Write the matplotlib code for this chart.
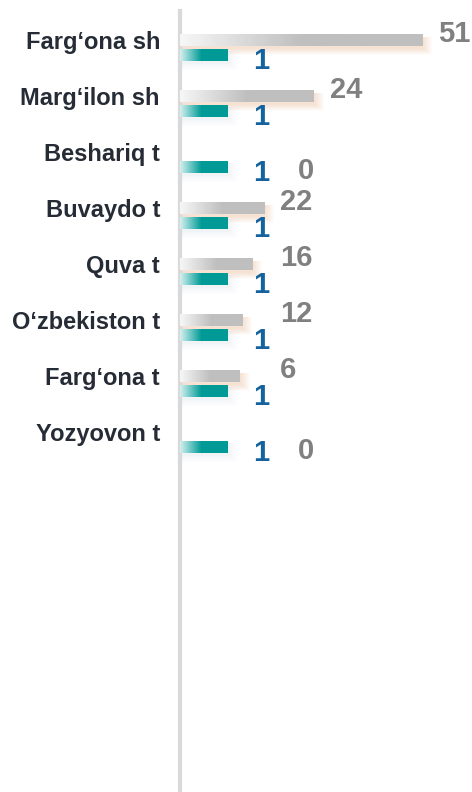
import numpy as np
import matplotlib
matplotlib.use("Agg")
import matplotlib.pyplot as plt
from matplotlib.colors import LinearSegmentedColormap
from matplotlib.patches import Rectangle

plt.rcParams['font.family'] = ['Liberation Sans', 'DejaVu Sans']

# data
districts = ["Farg‘ona sh", "Marg‘ilon sh", "Beshariq t", "Buvaydo t",
             "Quva t", "O‘zbekiston t", "Farg‘ona t", "Yozyovon t"]
gray_values = [51, 24, 0, 22, 16, 12, 6, 0]
teal_values = [1, 1, 1, 1, 1, 1, 1, 1]
# bar lengths as drawn in the picture (the picture is not to scale)
gray_len = [51, 28.2, 0, 17.7, 15.2, 13.1, 12.6, 0]
teal_len = [10.1, 10.1, 10.1, 10.1, 10.1, 10.1, 10.1, 10.1]

W, H = 472, 792
fig = plt.figure(figsize=(W / 100, H / 100), dpi=100)
fig.patch.set_facecolor('white')
ax = fig.add_axes([180 / W, 0, 292 / W, 781 / H])

xmax = 61.5
px_x = xmax / 292.0   # data units per pixel (x)
px_y = 1 / 56.0       # data units per pixel (y)
bh = 12 * px_y
off = 0.138

gray_cmap = LinearSegmentedColormap.from_list('g', [(0, '#f7f7f7'), (0.5, '#bfbfbf'), (1, '#bfbfbf')])
teal_cmap = LinearSegmentedColormap.from_list('t', [(0, '#d6f0ef'), (0.45, '#009a97'), (1, '#009a97')])
grad = np.linspace(0, 1, 256).reshape(1, -1)

y = np.arange(len(districts))
gy = y - off
ty = y + off

# soft glow under gray bars / shadow under teal bars
for i in range(len(districts)):
    if gray_len[i] > 0:
        for k in range(10):
            ax.add_patch(Rectangle((0, gy[i] - bh / 2 + 3 * px_y),
                                   gray_len[i] + (1 + k * 1.0) * px_x,
                                   bh + (k * 0.7) * px_y,
                                   facecolor='#f6b98f', edgecolor='none',
                                   alpha=0.045, zorder=1))
    for k in range(5):
        ax.add_patch(Rectangle((0, ty[i] - bh / 2 + 2 * px_y),
                               teal_len[i] + (1 + k * 2) * px_x,
                               bh + (1 + k * 1.5) * px_y,
                               facecolor='#c9d6e6', edgecolor='none',
                               alpha=0.05, zorder=1))

gbars = ax.barh(gy, gray_len, height=bh, color='none', edgecolor='none', zorder=2)
tbars = ax.barh(ty, teal_len, height=bh, color='none', edgecolor='none', zorder=2)

for bars, cmap in ((gbars, gray_cmap), (tbars, teal_cmap)):
    for b in bars:
        if b.get_width() <= 0:
            continue
        x0, y0 = b.get_x(), b.get_y()
        im = ax.imshow(grad, cmap=cmap, aspect='auto', zorder=3,
                       extent=[x0, x0 + b.get_width(), y0 + b.get_height(), y0],
                       interpolation='bilinear')
        im.set_clip_path(b)

# labels
for i in range(len(districts)):
    if gray_values[i] == 0:
        ax.annotate(str(gray_values[i]), xy=(teal_len[i], ty[i]), xytext=(50, -3),
                    textcoords='offset points', ha='left', va='center',
                    fontsize=21, fontweight='bold', color='#808080', zorder=5)
    else:
        ax.annotate(str(gray_values[i]), xy=(max(gray_len[i], 17.7), gy[i]),
                    xytext=(11.5, 4.3), textcoords='offset points',
                    ha='left', va='center', fontsize=21, fontweight='bold',
                    color='#808080', zorder=5)
    ax.annotate(str(teal_values[i]), xy=(teal_len[i], ty[i]), xytext=(18, -4.5),
                textcoords='offset points', ha='left', va='center',
                fontsize=21, fontweight='bold', color='#15639e', zorder=5)

ax.set_xlim(0, xmax)
ax.set_ylim(-0.647 + 781 / 56.0, -0.647)
ax.set_yticks(gy)
ax.set_yticklabels(districts, fontsize=17, fontweight='bold', color='#262c36')
ax.tick_params(axis='y', length=0, pad=14.4)
ax.set_xticks([])
for s in ['top', 'right', 'bottom']:
    ax.spines[s].set_visible(False)
ax.spines['left'].set_color('#d9d9d9')
ax.spines['left'].set_linewidth(3)
ax.set_facecolor('none')

fig.savefig('out.png', dpi=100)
